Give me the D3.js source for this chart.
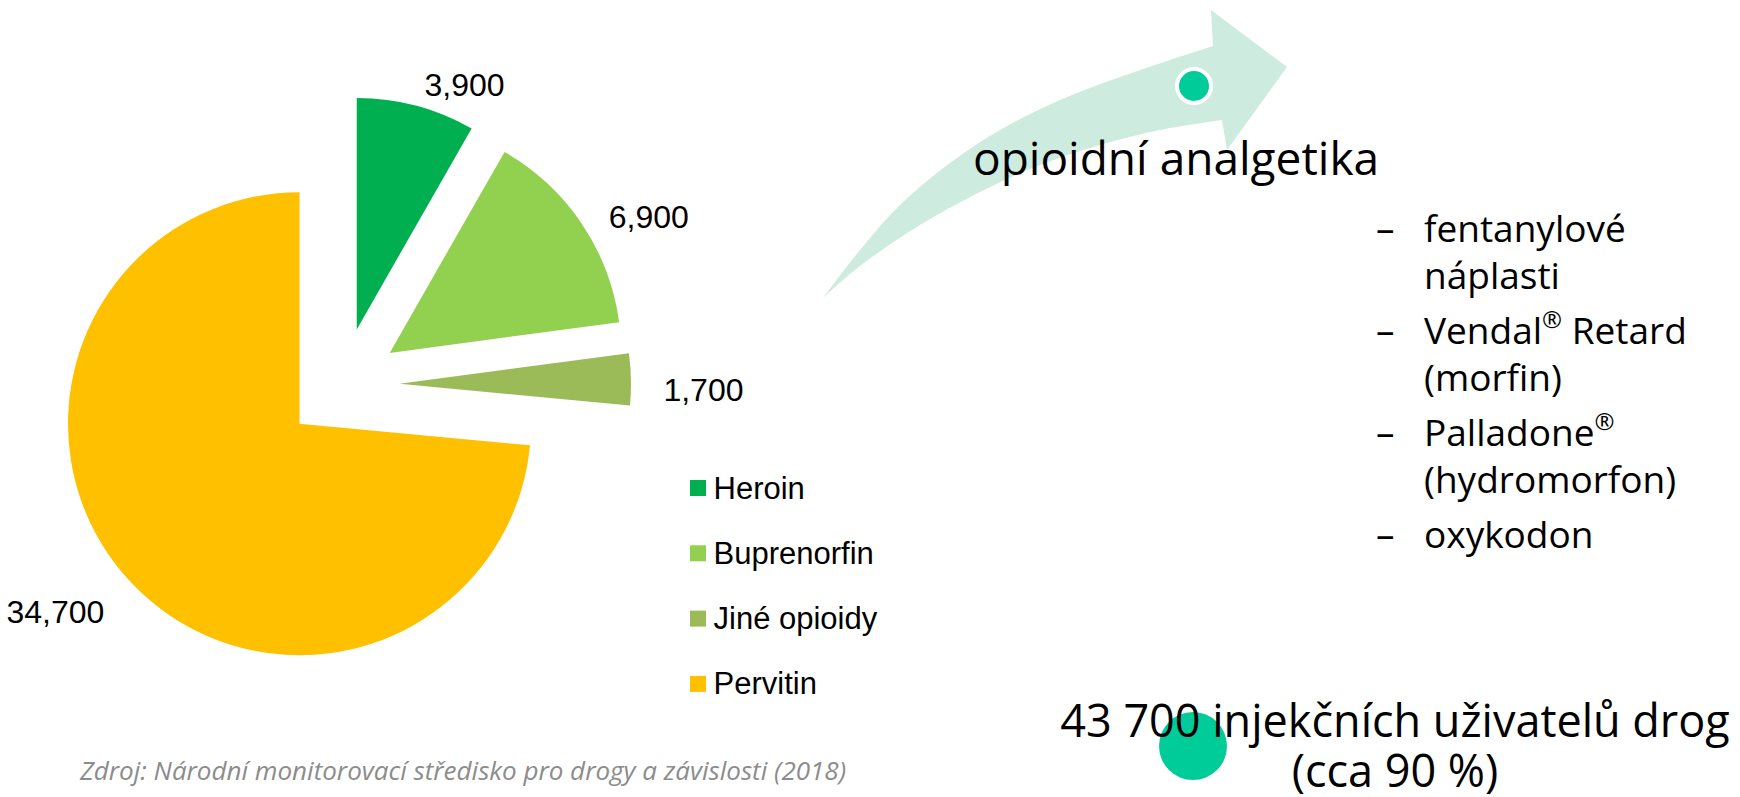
<!DOCTYPE html>
<html>
<head>
<meta charset="utf-8">
<script src="https://cdn.jsdelivr.net/npm/d3@7"></script>
<style>
  body { margin: 0; background: #fff; }
  svg { display: block; }
</style>
</head>
<body>
<div id="chart"></div>
<script>
// data
var categories = ['Heroin', 'Buprenorfin', 'Jiné opioidy', 'Pervitin'];
var users = [3900, 6900, 1700, 34700];
var sliceColors = ['#00B050', '#92D050', '#9BBB59', '#FFC000'];
var analgesics = [['fentanylové', 'náplasti'], ['Vendal® Retard', '(morfin)'], ['Palladone®', '(hydromorfon)'], ['oxykodon']];
var arrowTitle = 'opioidní analgetika';
var totalLines = ['43 700 injekčních uživatelů drog', '(cca 90 %)'];
var sourceText = 'Zdroj: Národní monitorovací středisko pro drogy a závislosti (2018)';

var width = 1740, height = 797;
var sansFont = '"Liberation Sans", Arial, sans-serif';
var textFont = '"Open Sans", "Noto Sans", sans-serif';

var svg = d3.select('#chart').append('svg')
    .attr('width', width)
    .attr('height', height);

// ---- pie ----
var cx = 342, cy = 385, radius = 231.5, explode = 57.5, labelRadius = 264;
var pieData = categories.map((c, i) => ({name: c, value: users[i], color: sliceColors[i]}));

var pie = d3.pie().sort(null).value(d => d.value);
var arc = d3.arc().innerRadius(0).outerRadius(radius);
var fmt = d3.format(',');
var midAngle = d => (d.startAngle + d.endAngle) / 2;

var pieGroup = svg.append('g').attr('transform', `translate(${cx},${cy})`);

var slices = pieGroup.selectAll('g.slice')
    .data(pie(pieData))
    .enter()
    .append('g')
    .attr('class', 'slice')
    .attr('transform', d => `translate(${Math.sin(midAngle(d)) * explode},${-Math.cos(midAngle(d)) * explode})`);

slices.append('path')
    .attr('d', arc)
    .attr('fill', d => d.data.color);

// popisky hodnot
slices.append('text')
    .attr('x', d => Math.sin(midAngle(d)) * labelRadius)
    .attr('y', d => -Math.cos(midAngle(d)) * labelRadius)
    .attr('dy', 11)
    .attr('text-anchor', d => Math.sin(midAngle(d)) >= 0 ? 'start' : 'end')
    .attr('dominant-baseline', 'central')
    .style('font-family', sansFont)
    .style('font-size', '32px')
    .text(d => fmt(d.data.value));

// legenda
var legend = svg.append('g').attr('transform', 'translate(690,488)');
var legendRows = legend.selectAll('g')
    .data(pieData)
    .enter()
    .append('g')
    .attr('transform', (d, i) => `translate(0,${i * 65.3})`);
legendRows.append('rect')
    .attr('x', 0).attr('y', -8)
    .attr('width', 16).attr('height', 16)
    .attr('fill', d => d.color);
legendRows.append('text')
    .attr('x', 23.5)
    .attr('dominant-baseline', 'central')
    .style('font-family', sansFont)
    .style('font-size', '31px')
    .text(d => d.name);

// zdroj
svg.append('text')
    .attr('x', 80).attr('y', 780)
    .style('font-family', textFont)
    .style('font-style', 'italic')
    .style('font-size', '26px')
    .attr('fill', '#8c8c8c')
    .text(sourceText);

// ---- zakřivená šipka ----
var upperEdge = [[823, 298], [860, 250], [900, 205], [950, 163], [1000, 130], [1060, 100], [1120, 77], [1170, 60], [1213, 46]];
var arrowHead = [[1211, 10], [1287, 67], [1227, 150]];
var lowerEdge = [[1222, 120], [1160, 130], [1100, 145], [1040, 165], [980, 192], [920, 225], [860, 266], [823, 298]];

var edgeLine = d3.line().curve(d3.curveCatmullRom);
var arrowPath = edgeLine(upperEdge)
    + arrowHead.map(p => 'L' + p[0] + ',' + p[1]).join('')
    + edgeLine(lowerEdge).replace(/^M/, 'L') + 'Z';

svg.append('path')
    .attr('d', arrowPath)
    .attr('fill', '#cdecdf');

svg.append('circle')
    .attr('cx', 1194).attr('cy', 86).attr('r', 17)
    .attr('fill', '#00CC99')
    .attr('stroke', '#fff')
    .attr('stroke-width', 4);

svg.append('text')
    .attr('x', 973).attr('y', 175)
    .style('font-family', textFont)
    .style('font-size', '46px')
    .text(arrowTitle);

// odrážky
function addSup(sel, str) {
    var parts = str.split('®');
    parts.forEach((p, i) => {
        sel.append('tspan').text(p);
        if (i < parts.length - 1) {
            sel.append('tspan')
                .attr('baseline-shift', 'super')
                .style('font-size', '24px')
                .text('®');
        }
    });
}

var bulletY = 242, lineStep = 46.5, itemStep = 55.5;
var bullets = svg.append('g').style('font-family', textFont).style('font-size', '37px');
analgesics.forEach(item => {
    bullets.append('text').attr('x', 1376).attr('y', bulletY).text('–');
    item.forEach((line, j) => {
        var t = bullets.append('text').attr('x', 1424).attr('y', bulletY);
        addSup(t, line);
        if (j < item.length - 1) bulletY += lineStep;
    });
    bulletY += itemStep;
});

// celkem
svg.append('circle')
    .attr('cx', 1193).attr('cy', 746).attr('r', 34)
    .attr('fill', '#00CC99');

svg.append('g')
    .selectAll('text')
    .data(totalLines)
    .enter()
    .append('text')
    .attr('x', 1395)
    .attr('y', (d, i) => 737 + i * 50)
    .attr('text-anchor', 'middle')
    .style('font-family', textFont)
    .style('font-size', '45px')
    .text(d => d);
</script>
</body>
</html>
